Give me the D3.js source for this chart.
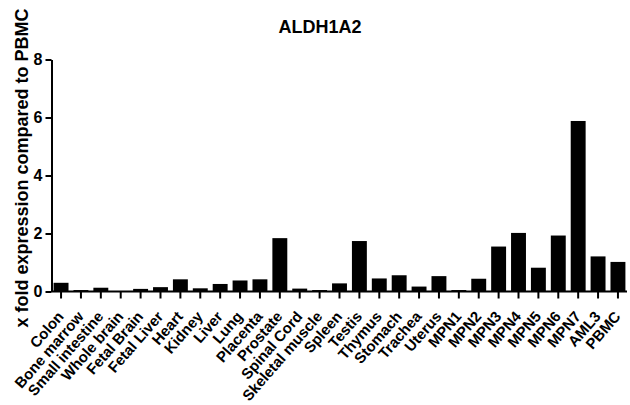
<!DOCTYPE html>
<html>
<head>
<meta charset="utf-8">
<script src="https://cdn.jsdelivr.net/npm/d3@7"></script>
<style>
html,body{margin:0;padding:0;background:#fff;}
svg{display:block;}
text{font-family:"Liberation Sans", Arial, sans-serif;font-weight:bold;fill:#000;}
</style>
</head>
<body>
<svg id="chart" width="630" height="405"></svg>
<script>
const categories = ["Colon","Bone marrow","Small intestine","Whole brain","Fetal Brain","Fetal Liver","Heart","Kidney","Liver","Lung","Placenta","Prostate","Spinal Cord","Skeletal muscle","Spleen","Testis","Thymus","Stomach","Trachea","Uterus","MPN1","MPN2","MPN3","MPN4","MPN5","MPN6","MPN7","AML3","PBMC"];
const values = [0.30,0.05,0.13,0.01,0.09,0.15,0.42,0.11,0.26,0.38,0.42,1.84,0.10,0.05,0.28,1.74,0.45,0.56,0.17,0.53,0.05,0.44,1.55,2.02,0.82,1.93,5.88,1.21,1.02];
const yTicks = [0,2,4,6,8];
const title = "ALDH1A2";
const yLabel = "x fold expression compared to PBMC";

const svg = d3.select("#chart");
const x = d3.scaleBand().domain(categories).range([52, 627]).paddingInner(0.25).paddingOuter(0.08);
const y = d3.scaleLinear().domain([0, 8]).range([291.5, 59.5]);

svg.append("text").attr("x", 320).attr("y", 33).attr("text-anchor", "middle")
  .style("font-size", "18px").text(title);

svg.selectAll("rect.bar").data(values).join("rect").attr("class","bar")
  .attr("x", (d,i) => x(categories[i]))
  .attr("width", x.bandwidth())
  .attr("y", d => y(d))
  .attr("height", d => y(0) - y(d))
  .attr("fill", "#000");

// y axis
const ya = svg.append("g").attr("transform", "translate(51.5,0)")
  .call(d3.axisLeft(y).tickValues(yTicks).tickSize(6).tickPadding(3).tickSizeOuter(0));
ya.select(".domain").attr("stroke", "#000").attr("stroke-width", 2);
ya.selectAll(".tick line").attr("stroke-width", 2);
ya.selectAll(".tick text").style("font-size", "16px").style("font-family", "Liberation Sans, Arial, sans-serif").style("font-weight","bold");

// x axis
const xa = svg.append("g").attr("transform", "translate(0,291.5)")
  .call(d3.axisBottom(x).tickSize(7).tickSizeOuter(0).tickFormat(""));
xa.select(".domain").attr("stroke", "#000").attr("stroke-width", 2).attr("d", "M51.5,0H627");
xa.selectAll(".tick line").attr("stroke-width", 2);

svg.selectAll("text.xl").data(categories).join("text").attr("class","xl")
  .attr("text-anchor", "end")
  .attr("transform", d => `translate(${x(d) + x.bandwidth()/2 + 3.5},${317}) rotate(-49)`)
  .style("font-size", "15px")
  .text(d => d);

svg.append("text").attr("transform", "translate(28,168) rotate(-90)")
  .attr("text-anchor", "middle").style("font-size", "18px").text(yLabel);
</script>
</body>
</html>
